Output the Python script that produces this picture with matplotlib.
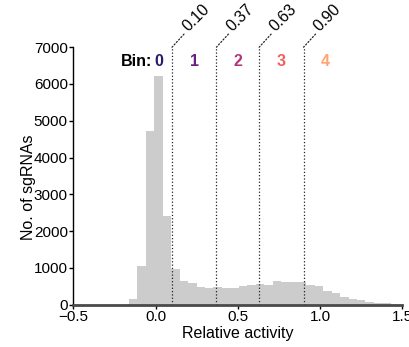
import numpy as np
import matplotlib
matplotlib.use("Agg")
import matplotlib.pyplot as plt

plt.rcParams['font.family'] = ['Liberation Sans', 'DejaVu Sans']

# histogram of relative activity (counts per bin)
bin_lo, bin_hi = -0.162, 1.482
counts = [160, 1060, 4730, 6225, 2410, 965, 640, 580, 490, 455, 485, 460,
          460, 505, 525, 570, 535, 635, 610, 610, 615, 535, 495, 370, 310,
          200, 155, 120, 75, 55, 55, 25]

# activity cut-offs between bins and the bin labels
cuts = [0.10, 0.37, 0.63, 0.90]
cut_labels = ['0.10', '0.37', '0.63', '0.90']
bin_names = ['0', '1', '2', '3', '4']
bin_pos = [0.02, 0.235, 0.50, 0.765, 1.03]
bin_colors = ['#2d1b69', '#6b1f83', '#b33679', '#f1605d', '#fea571']

edges = np.linspace(bin_lo, bin_hi, len(counts) + 1)

fig = plt.figure(figsize=(4.10, 3.47), dpi=100)
ax = fig.add_axes([0.179, 0.122, 0.802, 0.742])

ax.stairs(counts, edges, fill=True, color='#cccccc', lw=0)

ax.set_xlim(-0.5, 1.5)
ax.set_ylim(0, 7000)
ax.set_xticks([-0.5, 0.0, 0.5, 1.0, 1.5])
ax.set_yticks(range(0, 7001, 1000))

for s in ['top', 'right']:
    ax.spines[s].set_visible(False)
ax.spines['left'].set_linewidth(1.0)
ax.spines['bottom'].set_linewidth(2.0)
ax.spines['bottom'].set_color('#4a4a4a')
ax.tick_params(axis='both', labelsize=11, length=3, width=1, pad=1)

ax.set_xlabel('Relative activity', fontsize=11.5, labelpad=1)
ax.set_ylabel('No. of sgRNAs', fontsize=11.5)
ax.yaxis.set_label_coords(-0.114, 0.455)

# cut-off lines with angled leaders up to the value labels
top = 7000
ax.vlines(cuts, 0, top, colors='#222222', linestyles=':', lw=0.9)
for c, lab in zip(cuts, cut_labels):
    ax.annotate('', xy=(c, top), xytext=(8.6, 9.4), textcoords='offset points',
                arrowprops=dict(arrowstyle='-', ls=':', lw=0.9, color='#222222',
                                shrinkA=0, shrinkB=0),
                annotation_clip=False)
    ax.annotate(lab, xy=(c, top), xytext=(11.5, 11), textcoords='offset points',
                rotation=45, rotation_mode='anchor', ha='left', va='baseline',
                fontsize=11.5, annotation_clip=False)

# bin numbers
ax.annotate('Bin:', xy=(bin_pos[0], 6620), xytext=(-5, 0),
            textcoords='offset points', ha='right', va='center',
            fontsize=11.5, fontweight='bold')
for x, name, col in zip(bin_pos, bin_names, bin_colors):
    ax.text(x, 6620, name, ha='center', va='center', fontsize=11.5,
            fontweight='bold', color=col)

fig.savefig('out.png', dpi=100)
